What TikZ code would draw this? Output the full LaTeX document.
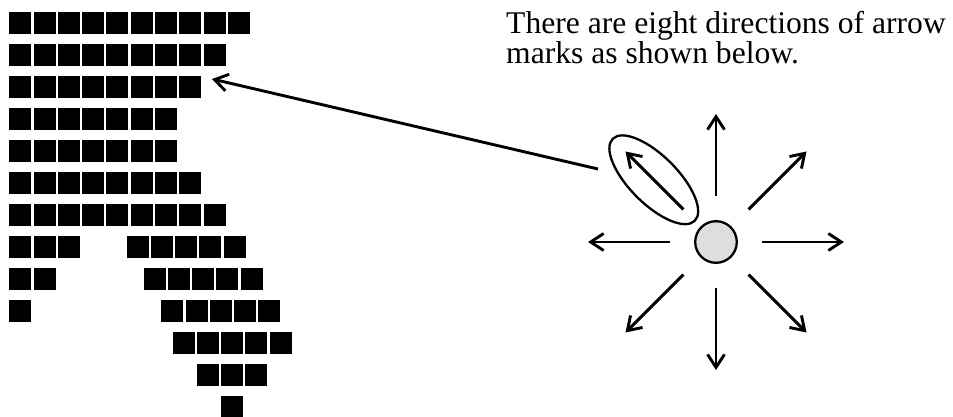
\documentclass[tikz,border=0pt]{standalone}
\usepackage{fontspec}
\setmainfont{Liberation Serif}
\usetikzlibrary{arrows.meta,shapes.geometric,calc}
\begin{document}
\begin{tikzpicture}[x=1pt,y=-1pt,
  sqr/.style={fill=black,draw=none,minimum size=22pt,inner sep=0pt,anchor=north west},
  arr/.style={line width=2.9pt,-{Straight Barb[length=13pt,width=17pt]}},
  txt/.style={anchor=base west,inner sep=0pt,font=\fontsize{31.6}{30}\selectfont}]
\useasboundingbox (0,0) rectangle (953,417);
% blocks
\foreach \r/\s/\x/\n in {1/1/9/10, 2/1/9/9, 3/1/9/8, 4/1/9/7, 5/1/9/7, 6/1/9/8, 7/1/9/9,
  8/1/9/3, 8/2/126.3/5, 9/1/9/2, 9/2/143.3/5, 10/1/9/1, 10/2/161/5, 11/1/172.3/5,
  12/1/196.3/3, 13/1/221/1}{
  \foreach \i in {1,...,\n}{
    \node[sqr] (sq\r-\s-\i) at ({\x+(\i-1)*24.3},{12+(\r-1)*32}) {};
  }
}
% text
\node[txt] (t1) at (506,33.3) {There are eight directions of arrow};
\node[txt] (t2) at (506,63.3) {marks as shown below.};
% centre
\node[circle,draw,line width=2.3pt,fill=black!13,minimum size=41.6pt,inner sep=0pt] (c) at (716,242) {};
\foreach \a in {0,45,...,315}{
  \coordinate (a\a) at ($(c)+(\a:46)$);
  \coordinate (b\a) at ($(c)+(\a:128)$);
  \draw[arr] (a\a) -- (b\a);
}
% highlighted arrow
\node[ellipse,draw,line width=2.3pt,minimum width=116pt,minimum height=48pt,inner sep=0pt,rotate=-45] (e) at ($(c)+(225:88)$) {};
\coordinate (s) at (598,169);
\coordinate (tgt) at (212,79);
\draw[arr] (s) -- (tgt);
\end{tikzpicture}
\end{document}
